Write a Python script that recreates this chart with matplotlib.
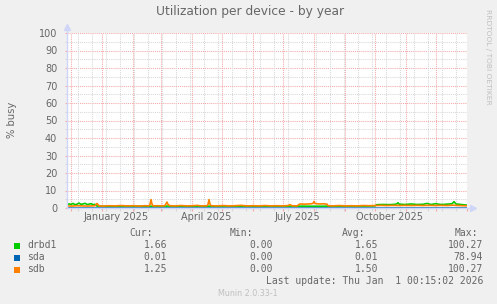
import numpy as np
import matplotlib.pyplot as plt
import matplotlib.dates as mdates
from datetime import datetime, timedelta

# ===========================
# Data (day offset from START, value in % busy)
# ===========================

START = datetime(2024, 11, 27, 0, 15)
END = datetime(2026, 1, 1, 0, 15)

drbd1_day = [0, 2, 4, 6, 8, 10, 12, 14, 16, 18, 20, 22, 24, 26, 28, 30,
             40, 60, 80, 100, 130, 160, 190, 220, 250, 280, 300, 308,
             310, 316, 322, 328, 330, 331, 332, 338, 344, 350, 356, 360,
             364, 369, 372, 376, 380, 385, 387, 389, 394, 400]
drbd1_val = [1.8, 2.4, 2.0, 2.6, 1.9, 2.2, 2.8, 2.1, 2.3, 2.7, 2.0, 2.2, 2.5, 1.9, 2.1, 1.1,
             1.0, 1.1, 1.0, 1.1, 1.0, 1.1, 1.0, 1.1, 1.0, 1.1, 1.1, 1.2,
             1.9, 2.0, 1.9, 2.1, 2.4, 3.0, 2.2, 2.0, 2.3, 2.0, 2.1, 2.6,
             2.0, 2.5, 2.1, 2.0, 2.2, 2.4, 3.6, 2.3, 2.0, 1.66]

sda_day = [0, 100, 200, 300, 400]
sda_val = [0.01, 0.01, 0.01, 0.01, 0.01]

sdb_day = [0, 5, 10, 15, 20, 25, 28, 30, 32, 36, 42, 48, 54, 60, 66, 72, 78, 82, 83, 84,
           85, 86, 90, 95, 98, 100, 101, 103, 108, 114, 120, 126, 130, 134, 140, 141,
           142, 143, 144, 150, 156, 162, 168, 174, 180, 186, 192, 198, 204, 210, 216,
           221, 223, 225, 230, 233, 238, 244, 246, 247, 248, 252, 256, 260, 261, 266,
           272, 278, 284, 290, 296, 302, 308, 314, 320, 326, 332, 338, 344, 350, 356,
           362, 368, 374, 380, 386, 388, 392, 396, 400]
sdb_val = [1.2, 1.1, 1.3, 1.2, 1.1, 1.2, 1.3, 2.6, 1.2, 1.1, 1.3, 1.2, 1.4, 1.2, 1.3, 1.1, 1.3, 1.2, 2.0, 4.8,
           2.2, 1.2, 1.3, 1.2, 1.4, 3.4, 2.0, 1.3, 1.2, 1.4, 1.2, 1.3, 1.5, 1.2, 1.3, 2.0,
           4.8, 2.2, 1.3, 1.2, 1.4, 1.2, 1.3, 1.5, 1.2, 1.3, 1.2, 1.4, 1.2, 1.3, 1.2,
           1.4, 1.9, 1.3, 1.2, 2.3, 2.2, 2.4, 2.6, 3.7, 2.6, 2.3, 2.4, 2.2, 1.3, 1.2,
           1.4, 1.2, 1.3, 1.2, 1.4, 1.3, 1.4, 1.5, 1.4, 1.5, 1.4, 1.5, 1.4, 1.5, 1.4,
           1.5, 1.4, 1.5, 1.4, 1.6, 1.5, 1.4, 1.3, 1.25]

names = ["drbd1", "sda", "sdb"]
colors = ["#00CC00", "#0066B3", "#FF8000"]
cur = ["1.66", "0.01", "1.25"]
mins = ["0.00", "0.00", "0.00"]
avgs = ["1.65", "0.01", "1.50"]
maxs = ["100.27", "78.94", "100.27"]

quarter_labels = ["January 2025", "April 2025", "July 2025", "October 2025"]
quarter_months = [(2025, 1), (2025, 4), (2025, 7), (2025, 10)]

TITLE = "Utilization per device - by year"
LAST_UPDATE = "Last update: Thu Jan  1 00:15:02 2026"

FONT = "#666666"
AXIS = "#CFD6F8"
MAJOR = "#F4A8A8"
MINOR = "#D8D8D8"
W, H = 497, 304


def to_dates(days):
    return [START + timedelta(days=d) for d in days]


def px(x, y):
    return x / W, 1 - y / H


fig = plt.figure(figsize=(W / 100, H / 100), dpi=100, facecolor="#F0F0F0")
ax = fig.add_axes([67 / W, (H - 208) / H, 400 / W, 175 / H])
ax.set_facecolor("white")
ax.set_xlim(START, END)
ax.set_ylim(0, 100)
for s in ax.spines.values():
    s.set_visible(False)

# grid
dash = (0, (1, 1))
for v in np.arange(5, 100, 10):
    ax.axhline(v, color=MINOR, lw=0.75, ls=dash, zorder=1)
for v in np.arange(10, 101, 10):
    ax.axhline(v, color=MAJOR, lw=0.75, ls=dash, zorder=1)

# biweekly minor lines, monthly major lines
minor_x = []
d = datetime(2024, 12, 8)
while d < END:
    minor_x.append(mdates.date2num(d))
    d += timedelta(days=14)
major_x = []
y, m = 2024, 12
while datetime(y, m, 1) <= END:
    major_x.append(mdates.date2num(datetime(y, m, 1)))
    y, m = (y + 1, 1) if m == 12 else (y, m + 1)

for v in minor_x:
    ax.axvline(v, color=MINOR, lw=0.75, ls=dash, zorder=1)
for v in major_x:
    ax.axvline(v, color=MAJOR, lw=0.75, ls=dash, zorder=1)

# small ticks below x axis / left of y axis
x0 = mdates.date2num(START)
ax.vlines(minor_x, -1.6, 0, color=MINOR, lw=0.8, clip_on=False)
ax.vlines(major_x, -1.6, 0, color=MAJOR, lw=0.8, clip_on=False)
ax.hlines(np.arange(5, 100, 10), x0 - 2, x0, color=MINOR, lw=0.8, clip_on=False)
ax.hlines(np.arange(0, 101, 10), x0 - 2, x0, color=MAJOR, lw=0.8, clip_on=False)

# series
ax.plot(to_dates(drbd1_day), drbd1_val, color=colors[0], lw=1.2, zorder=3)
ax.plot(to_dates(sda_day), sda_val, color=colors[1], lw=1.1, zorder=3)
ax.plot(to_dates(sdb_day), sdb_val, color=colors[2], lw=1.2, zorder=4)

# axes with arrows
ax.plot([0, 0], [0, 1.03], transform=ax.transAxes, color=AXIS, lw=1, clip_on=False, zorder=5)
ax.plot([0], [1.035], transform=ax.transAxes, marker="^", ms=4, color=AXIS, clip_on=False, zorder=5)
ax.plot([0, 1.012], [0, 0], transform=ax.transAxes, color=AXIS, lw=1, clip_on=False, zorder=5)
ax.plot([1.014], [0], transform=ax.transAxes, marker=">", ms=4, color=AXIS, clip_on=False, zorder=5)

# tick labels
ax.set_yticks(np.arange(0, 101, 10))
ax.set_xticks([datetime(y, m, 15, 12) for y, m in quarter_months])
ax.set_xticklabels(quarter_labels)
ax.tick_params(axis="both", length=0, labelsize=7, colors=FONT)
ax.tick_params(axis="y", pad=7)
ax.tick_params(axis="x", pad=3)

# texts
fig.text(*px(250, 12), TITLE, ha="center", va="center", fontsize=8.8, color=FONT)
fig.text(*px(12, 120), "% busy", ha="center", va="center", rotation=90, fontsize=7.2, color=FONT)
fig.text(*px(488, 57), "RRDTOOL / TOBI OETIKER", ha="center", va="center", rotation=-90,
         fontsize=5.4, color="#C0C0C0")

mono = dict(family="DejaVu Sans Mono", fontsize=7, color=FONT, va="center")
fig.text(*px(153, 233), "Cur:", ha="right", **mono)
fig.text(*px(253, 233), "Min:", ha="right", **mono)
fig.text(*px(365, 233), "Avg:", ha="right", **mono)
fig.text(*px(478, 233), "Max:", ha="right", **mono)

rows = [245.5, 257.5, 269.5]
for i, yy in enumerate(rows):
    fig.patches.append(plt.Rectangle(px(14, yy + 3), 6 / W, 6 / H, transform=fig.transFigure,
                                     facecolor=colors[i], edgecolor="none"))
    fig.text(*px(27, yy), names[i], ha="left", **mono)
    fig.text(*px(167, yy), cur[i], ha="right", **mono)
    fig.text(*px(273, yy), mins[i], ha="right", **mono)
    fig.text(*px(378, yy), avgs[i], ha="right", **mono)
    fig.text(*px(483, yy), maxs[i], ha="right", **mono)

fig.text(*px(483, 281), LAST_UPDATE, ha="right", **mono)
fig.text(*px(248, 293), "Munin 2.0.33-1", ha="center", va="center", fontsize=5.8, color="#C0C0C0")

fig.savefig("out.png", dpi=100, facecolor=fig.get_facecolor())
